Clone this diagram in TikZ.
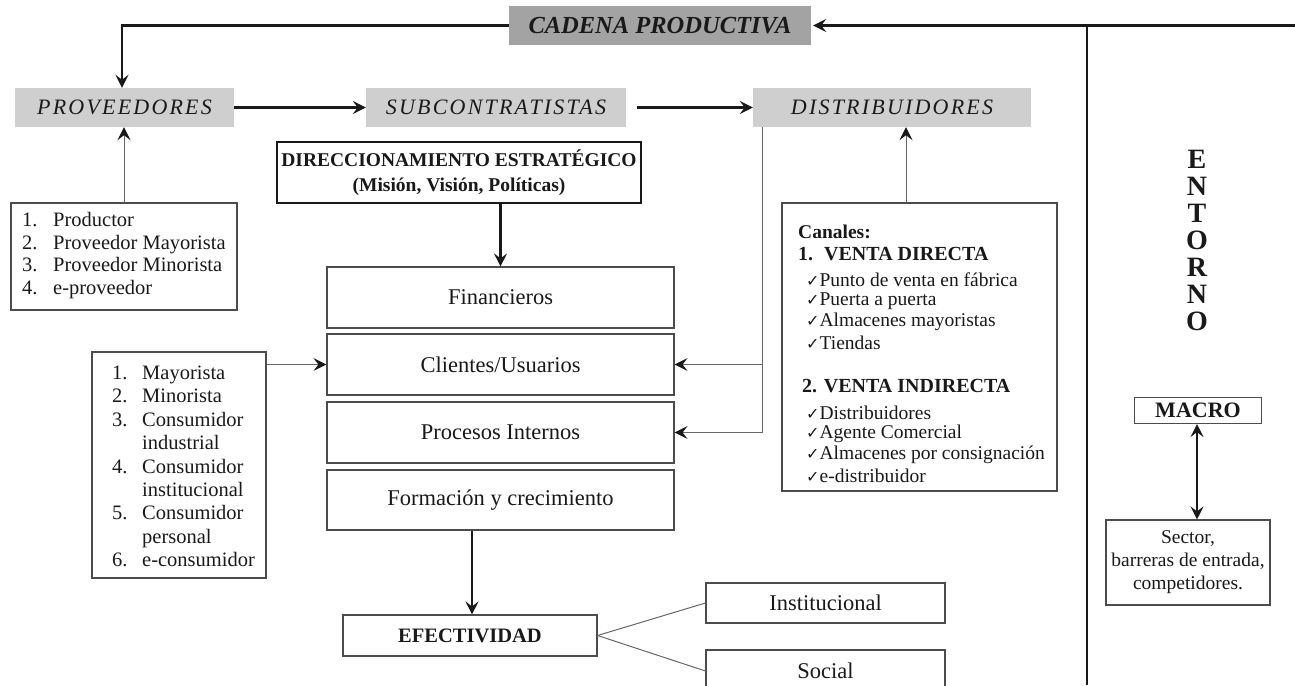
\documentclass[tikz,border=0pt]{standalone}
\usepackage{fontspec}
\setmainfont{Liberation Serif}
\newfontfamily\checkfont{DejaVu Sans}
\usetikzlibrary{arrows.meta}
\newcommand{\chkmark}{{\checkfont\fontsize{16}{16}\selectfont ✓}}

\tikzset{
  heavy/.style={line width=2.2pt, draw=black!90},
  fine/.style={line width=1pt, draw=black!60},
  arr/.style={-{Stealth[length=13pt,width=13pt,inset=5pt,color=black!90]}},
  arrs/.style={{Stealth[length=13pt,width=13pt,inset=5pt,color=black!90]}-{Stealth[length=13pt,width=13pt,inset=5pt,color=black!90]}},
  link/.style={fill=black!19, inner sep=0pt, text=black!90,
    font=\fontsize{22}{26}\selectfont\itshape\addfontfeature{LetterSpace=10}},
  frame/.style={draw=black!70, line width=1.1pt, inner sep=0pt, text=black!90},
  body/.style={font=\fontsize{22.5}{27}\selectfont},
  listtxt/.style={anchor=north west, inner sep=0pt, text=black!90},
  cl/.style={anchor=west, inner sep=0pt, text=black!90, font=\fontsize{19.5}{22}\selectfont},
  ch/.style={anchor=west, inner sep=0pt, text=black!90, font=\fontsize{20}{24}\selectfont\bfseries},
}

\begin{document}
\begin{tikzpicture}[x=1pt,y=-1pt]
\useasboundingbox (0,0) rectangle (1295,685);

% ---- productive chain header ----
\node[fill=black!36, inner sep=0pt, minimum width=302pt, minimum height=39pt,
      font=\fontsize{24.5}{28}\selectfont\bfseries\itshape, text=black!90]
      (cad) at (660,25.5) {CADENA PRODUCTIVA};

\node[link, minimum width=219pt, minimum height=39pt] (prov) at (124.5,107.5) {PROVEEDORES};
\node[link, minimum width=260pt, minimum height=39pt] (sub)  at (496,107.5)   {SUBCONTRATISTAS};
\node[link, minimum width=278pt, minimum height=39pt] (dist) at (892,107.5)   {DISTRIBUIDORES};

\coordinate (tl) at (122,25.5);
\coordinate (tr) at (1295,25.5);
\coordinate (dtop) at (1087,25.5);
\coordinate (dbot) at (1087,685);

\draw[heavy,arr] (cad.west) -- (tl) -- (tl |- prov.north);
\draw[heavy,arr,shorten >=2pt] (tr) -- (cad.east);
\draw[line width=2pt, black!90] (dtop) -- (dbot);
\draw[heavy,arr] (prov.east) -- (sub.west);
\draw[heavy,arr,shorten <=11pt] (sub.east) -- (dist.west);

% ---- strategic direction and perspectives ----
\node[draw=black!90, line width=2pt, minimum width=364pt, minimum height=61pt, align=center,
      font=\fontsize{19.5}{25}\selectfont\bfseries, text=black!90]
      (dir) at (459,172.5) {DIRECCIONAMIENTO ESTRATÉGICO\\(Misión, Visión, Políticas)};

\node[frame, body, minimum width=347pt, minimum height=61pt] (fin)  at (500.5,297.5) {Financieros};
\node[frame, body, minimum width=347pt, minimum height=61pt] (cli)  at (500.5,364.5) {Clientes/Usuarios};
\node[frame, body, minimum width=347pt, minimum height=61pt] (proc) at (500.5,432.5) {Procesos Internos};
\node[frame, body, minimum width=347pt, minimum height=60pt] (form) at (500.5,500)   {Formación y crecimiento};

\draw[heavy,arr] (dir.south -| fin.north) -- (fin.north);

% ---- effectiveness ----
\node[frame, minimum width=254pt, minimum height=41pt,
      font=\fontsize{20.5}{24}\selectfont\bfseries] (efec) at (470,635.5) {EFECTIVIDAD};
\node[frame, body, minimum width=239pt, minimum height=40pt] (inst) at (825.5,603) {Institucional};
\node[frame, body, minimum width=239pt, minimum height=42pt] (soc)  at (825.5,671) {Social};

\coordinate (fdown) at (472,0);
\draw[heavy,arr] (form.south -| fdown) -- (efec.north -| fdown);
\draw[fine] (efec.east) -- (inst.west);
\draw[fine] (efec.east) -- (soc.west);

% ---- supplier types ----
\node[frame, minimum width=226pt, minimum height=107pt] (plist) at (124,256.5) {};
\node[listtxt, font=\fontsize{20.5}{22.5}\selectfont] (ptxt) at (22,211)
  {\begin{tabular}{@{}p{31pt}@{}l@{}}
   1. & Productor\\
   2. & Proveedor Mayorista\\
   3. & Proveedor Minorista\\
   4. & e-proveedor
   \end{tabular}};
\draw[fine,arr] (plist.north) -- (plist.north |- prov.south);

% ---- customer types ----
\node[frame, minimum width=174pt, minimum height=226pt] (mlist) at (179,465) {};
\node[listtxt, font=\fontsize{20.5}{23.4}\selectfont] (mtxt) at (112,363)
  {\begin{tabular}{@{}p{30pt}@{}l@{}}
   1. & Mayorista\\
   2. & Minorista\\
   3. & Consumidor\\
      & industrial\\
   4. & Consumidor\\
      & institucional\\
   5. & Consumidor\\
      & personal\\
   6. & e-consumidor
   \end{tabular}};
\draw[fine,arr] (mlist.east |- cli.west) -- (cli.west);

% ---- distribution channels ----
\node[frame, minimum width=275pt, minimum height=288pt] (can) at (919.5,347) {};
\node[ch, font=\fontsize{19.5}{22}\selectfont\bfseries] (c0) at (798,232) {Canales:};
\node[ch] (c1) at (798,254) {1.\hspace{11pt}VENTA DIRECTA};
\node[cl] (c2) at (806,280) {\chkmark Punto de venta en fábrica};
\node[cl] (c3) at (806,301) {\chkmark Puerta a puerta};
\node[cl] (c4) at (806,322) {\chkmark Almacenes mayoristas};
\node[cl] (c5) at (806,343) {\chkmark Tiendas};
\node[ch] (c6) at (802,386) {2. VENTA INDIRECTA};
\node[cl] (c7) at (806,413) {\chkmark Distribuidores};
\node[cl] (c8) at (806,434) {\chkmark Agente Comercial};
\node[cl] (c9) at (806,455) {\chkmark Almacenes por consignación};
\node[cl] (c10) at (806,476) {\chkmark e-distribuidor};

\coordinate (cup) at (906,0);
\draw[fine,arr] (can.north -| cup) -- (dist.south -| cup);

\coordinate (dl) at (762.5,0);
\draw[fine] (dist.south -| dl) -- (dl |- proc.east);
\draw[fine,arr] (dl |- cli.east) -- (cli.east);
\draw[fine,arr] (dl |- proc.east) -- (proc.east);

% ---- environment ----
\node[inner sep=0pt, align=center, text=black!90,
      font=\fontsize{28}{27}\selectfont\bfseries] (ent) at (1197,240) {E\\N\\T\\O\\R\\N\\O};
\node[frame, minimum width=127pt, minimum height=26pt,
      font=\fontsize{22}{24}\selectfont\bfseries] (macro) at (1198,410.5) {MACRO};
\node[frame, minimum width=164pt, minimum height=85pt, align=center,
      font=\fontsize{19.5}{23}\selectfont] (sector) at (1188,562.5) {Sector,\\barreras de entrada,\\competidores.};
\draw[heavy,arrs] (macro.south -| ent.south) -- (sector.north -| ent.south);

\end{tikzpicture}
\end{document}
